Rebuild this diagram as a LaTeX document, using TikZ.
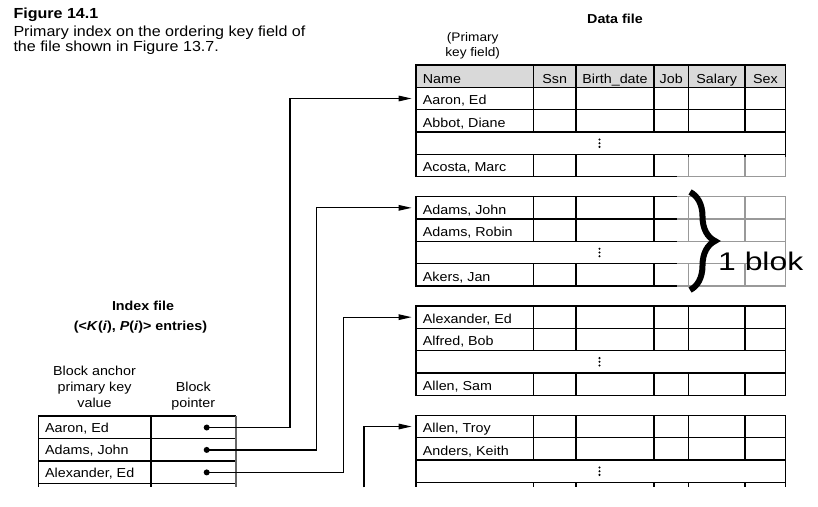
\documentclass[tikz,border=0pt]{standalone}
\usepackage{fontspec}
\setmainfont{Liberation Sans}[FakeStretch=1.1]
\newfontfamily\blokfont{Liberation Sans}[FakeStretch=1.25]
\usetikzlibrary{arrows.meta,decorations.pathreplacing}
\newcommand\tabfont{\fontsize{13}{15}\selectfont}
\newcommand\capfont{\fontsize{14.6}{16}\selectfont}
\newcommand\dcols{533.3,576,654,688.3,745}
\newcommand\vell[1]{%
  \foreach \dd in {-3.7,0,3.7}{\fill (599.5,{#1+\dd}) circle (1.15);}}
\newcommand\dgrid[1]{%
  \draw[tline] (416,#1) rectangle (785.7,{#1+89.33});
  \foreach \hy in {22.33,44.67,67}{\draw[tline] (416,{#1+\hy}) -- (785.7,{#1+\hy});}
  \foreach \cx in \dcols{%
    \draw[tline] (\cx,#1) -- (\cx,{#1+44.67});
    \draw[tline] (\cx,{#1+67}) -- (\cx,{#1+89.33});}
  \vell{#1+55.83}}
\begin{document}
\begin{tikzpicture}[x=1pt,y=-1pt,
  tline/.style={line width=1.3pt},
  cell/.style={anchor=base west, inner sep=0pt, font=\tabfont},
  lbl/.style={anchor=base, inner sep=0pt, font=\tabfont},
  ptr/.style={line width=1.2pt, -{Triangle[length=13pt,width=5.5pt]}, shorten >=4.3pt},
  dotp/.style={circle, fill, inner sep=0pt, minimum size=6pt}]
\useasboundingbox (0,0) rectangle (818,506);

% caption
\node[anchor=base west, inner sep=0pt, font=\capfont\bfseries] (fig) at (13.3,18.3) {Figure 14.1};
\node[anchor=base west, inner sep=0pt, font=\capfont] (cap1) at (13.3,36) {Primary index on the ordering key field of};
\node[anchor=base west, inner sep=0pt, font=\capfont] (cap2) at (13.3,51.7) {the file shown in Figure 13.7.};

% data file labels
\node[lbl, font=\tabfont\bfseries] (dtitle) at (615,23.3) {Data file};
\node[lbl, font=\fontsize{12.4}{14}\selectfont] (pk1) at (472.7,41.7) {(Primary};
\node[lbl, font=\fontsize{12.4}{14}\selectfont] (pk2) at (472.7,56.7) {key field)};

% header
\fill[gray!30] (416,65) rectangle (785.7,87.33);
\draw[tline] (416,65) rectangle (785.7,87.33);
\foreach \cx in \dcols{\draw[tline] (\cx,65) -- (\cx,87.33);}
\node[cell] (hname) at (422.7,83.3) {Name};
\node[lbl] (hssn) at (554.7,83.3) {Ssn};
\node[lbl] (hbd) at (615,83.3) {Birth\_date};
\node[lbl] (hjob) at (671.2,83.3) {Job};
\node[lbl] (hsal) at (716.7,83.3) {Salary};
\node[lbl] (hsex) at (765.4,83.3) {Sex};

% data blocks
\foreach \k/\na/\nb/\nc in {0/{Aaron, Ed}/{Abbot, Diane}/{Acosta, Marc},1/{Adams, John}/{Adams, Robin}/{Akers, Jan},2/{Alexander, Ed}/{Alfred, Bob}/{Allen, Sam}}{%
  \pgfmathsetmacro{\yy}{87.33+109.33*\k}
  \dgrid{\yy}
  \node[cell] (na\k) at (422.7,{\yy+17.4}) {\na};
  \node[cell] (nb\k) at (422.7,{\yy+39.7}) {\nb};
  \node[cell] (nc\k) at (422.7,{\yy+84.4}) {\nc};
  \coordinate (t\k) at (416,{\yy+11.17});
}
% last (cut) block
\begin{scope}
\def\yy{415.33}
\foreach \hy in {0,22.33,44.67,67}{\draw[tline] (416,{\yy+\hy}) -- (785.7,{\yy+\hy});}
\draw[tline] (416,\yy) -- (416,487.3);
\draw[tline] (785.7,\yy) -- (785.7,487.3);
\foreach \cx in \dcols{%
  \draw[tline] (\cx,\yy) -- (\cx,{\yy+44.67});
  \draw[tline] (\cx,{\yy+67}) -- (\cx,487.3);}
\vell{\yy+55.83}
\node[cell] (na3) at (422.7,{\yy+17.4}) {Allen, Troy};
\node[cell] (nb3) at (422.7,{\yy+39.7}) {Anders, Keith};
\coordinate (t3) at (416,{\yy+11.17});
\end{scope}

% faded overlay region behind the brace
\fill[white, opacity=0.6] (677,157) rectangle (812,293);
\draw[line width=6pt, decorate, decoration={brace, amplitude=25pt}] (690,192) -- (690,290);
\node[anchor=base west, inner sep=0pt, font=\blokfont\fontsize{25.5}{30}\selectfont] (blok) at (718,270) {1 blok};

% index file labels
\node[lbl, font=\tabfont\bfseries] (ititle) at (143,310) {Index file};
\node[lbl, font=\tabfont\bfseries] (ient) at (140.5,330) {(<\textit{K}(\textit{i}), \textit{P}(\textit{i})> entries)};
\node[lbl] (ba1) at (94.5,375) {Block anchor};
\node[lbl] (ba2) at (94.5,391) {primary key};
\node[lbl] (ba3) at (94.5,407.3) {value};
\node[lbl] (bp1) at (193.3,391) {Block};
\node[lbl] (bp2) at (193.3,407.3) {pointer};

% index table
\foreach \hy in {416,438.3,461,483.3}{\draw[tline] (38.3,\hy) -- (236,\hy);}
\draw[tline] (38.3,416) -- (38.3,487.3);
\draw[tline] (151,416) -- (151,487.3);
\draw[tline, gray!80!black] (236,416) -- (236,487.3);
\node[cell] (ia) at (45,432.3) {Aaron, Ed};
\node[cell] (ib) at (45,454.6) {Adams, John};
\node[cell] (ic) at (45,477.1) {Alexander, Ed};
\node[dotp] (p1) at (206.7,427.5) {};
\node[dotp] (p2) at (206.7,449.9) {};
\node[dotp] (p3) at (206.7,472.4) {};

% pointers
\draw[ptr] (p1.center) -- ++(83.3,0) |- (t0);
\draw[ptr] (p2.center) -- ++(110,0) |- (t1);
\draw[ptr] (p3.center) -- ++(136.6,0) |- (t2);
\coordinate (c4) at (364,487.3);
\draw[ptr] (c4) |- (t3);
\end{tikzpicture}
\end{document}
